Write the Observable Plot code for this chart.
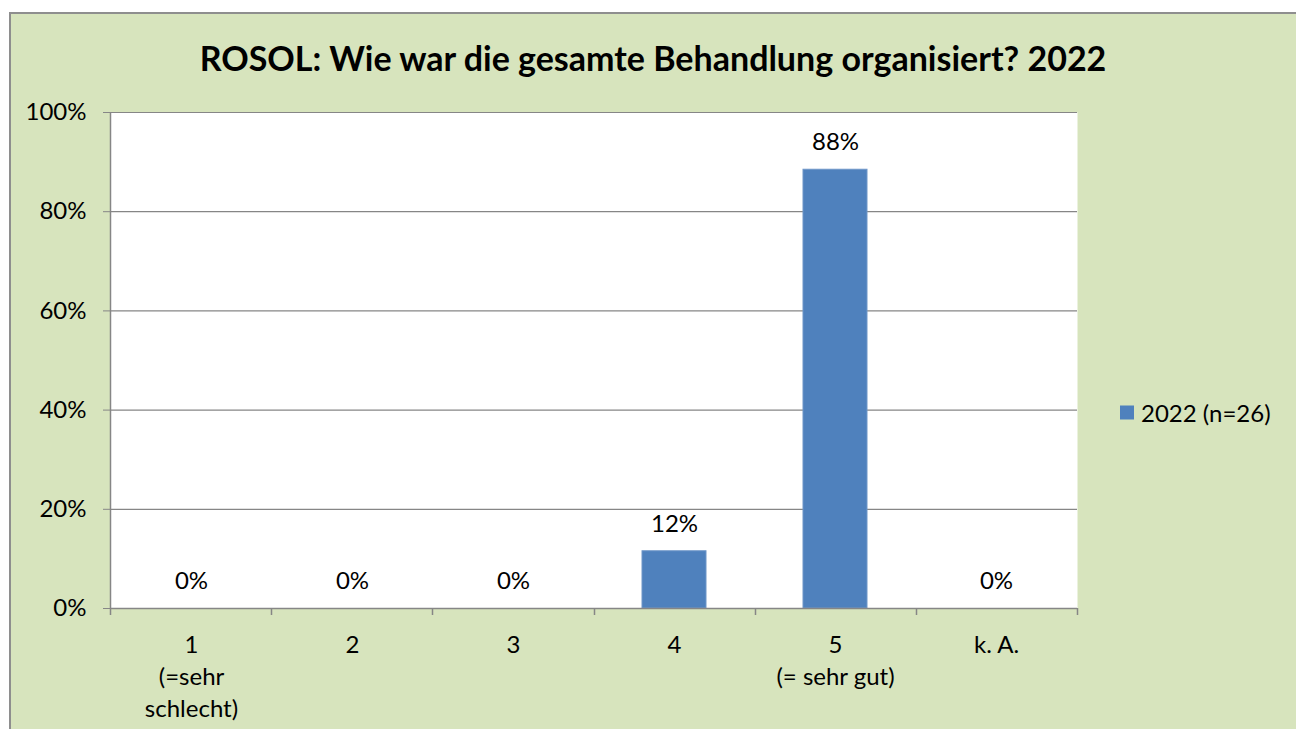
<!DOCTYPE html>
<html>
<head>
<meta charset="utf-8">
<script src="https://cdn.jsdelivr.net/npm/d3@7"></script>
<script src="https://cdn.jsdelivr.net/npm/@observablehq/plot@0.6"></script>
<style>
  html, body { margin: 0; padding: 0; background: #ffffff; }
  #wrap { position: relative; width: 1296px; height: 729px; overflow: hidden; font-family: Lato, "Open Sans", sans-serif; }
  #box { position: absolute; left: 9px; top: 12px; width: 1300px; height: 730px; background: #D7E4BD; border: 2px solid #8E8E8E; box-sizing: border-box; }
  #title { position: absolute; left: 653px; top: 57px; transform: translate(-50%, -50%); font-weight: bold; font-size: 34px; color: #000; white-space: nowrap; }
  #legend { position: absolute; left: 1120px; top: 412px; transform: translateY(-50%); display: flex; align-items: center; font-size: 24px; color: #000; white-space: nowrap; }
  #legend .sw { width: 14px; height: 14px; background: #4F81BD; margin-right: 7px; }
  #chart { position: absolute; left: 0; top: 0; }
</style>
</head>
<body>
<div id="wrap">
  <div id="box"></div>
  <div id="title"></div>
  <div id="legend"><div class="sw"></div><span id="legtext"></span></div>
  <div id="chart"></div>
</div>
<script>
const title = "ROSOL: Wie war die gesamte Behandlung organisiert? 2022";
const seriesName = "2022 (n=26)";
const categories = ["1\n(=sehr\nschlecht)", "2", "3", "4", "5\n(= sehr gut)", "k. A."];
const values = [0, 0, 0, 11.54, 88.46, 0];
const valueLabels = ["0%", "0%", "0%", "12%", "88%", "0%"];
const yTicks = [0, 20, 40, 60, 80, 100];

document.getElementById("title").textContent = title;
document.getElementById("legtext").textContent = seriesName;

const data = categories.map((c, i) => ({cat: c, value: values[i], label: valueLabels[i]}));

const W = 1296, H = 729;
const mL = 110, mR = 219, mT = 112, mB = 121;
const gray = "#868686";

// boundary ticks and left axis line, derived from the plot dimensions
function frameTicks(index, scales, values, dims) {
  const g = d3.create("svg:g");
  const x0 = dims.marginLeft, x1 = dims.width - dims.marginRight;
  const y0 = dims.marginTop, y1 = dims.height - dims.marginBottom;
  const n = categories.length;
  const step = (x1 - x0) / n;
  g.append("line").attr("x1", x0 + 0.5).attr("x2", x0 + 0.5).attr("y1", y0).attr("y2", y1)
    .attr("stroke", gray).attr("stroke-width", 1.5);
  for (let i = 0; i <= n; i++) {
    const x = Math.round(x0 + i * step) + 0.5;
    g.append("line").attr("x1", x).attr("x2", x).attr("y1", y1).attr("y2", y1 + 7)
      .attr("stroke", gray).attr("stroke-width", 1.5);
  }
  return g.node();
}

const chart = Plot.plot({
  width: W,
  height: H,
  marginLeft: mL,
  marginRight: mR,
  marginTop: mT,
  marginBottom: mB,
  style: {background: "transparent", fontFamily: "Lato, 'Open Sans', sans-serif", fontSize: "24px", color: "#000"},
  x: {domain: categories, paddingInner: 0.6, paddingOuter: 0.3, label: null},
  y: {domain: [0, 100], label: null},
  marks: [
    Plot.frame({fill: "white", stroke: null}),
    Plot.gridY(yTicks, {stroke: gray, strokeOpacity: 1, strokeWidth: 1.2}),
    Plot.barY(data, {x: "cat", y: "value", fill: "#4F81BD", stroke: "#6E96C8", strokeWidth: 1}),
    Plot.text(data, {x: "cat", y: "value", text: "label", dy: -27, fill: "#000", fontSize: 24}),
    Plot.ruleY([0], {stroke: gray, strokeWidth: 1.5}),
    Plot.axisY({ticks: yTicks, tickFormat: d => d + "%", tickSize: 7, tickPadding: 17, stroke: gray, fill: "#000", fontSize: 24, label: null}),
    Plot.axisX({tickSize: 0, tickPadding: 22, fill: "#000", fontSize: 24, lineHeight: 1.33, label: null}),
    frameTicks
  ]
});
document.getElementById("chart").appendChild(chart);
</script>
</body>
</html>
